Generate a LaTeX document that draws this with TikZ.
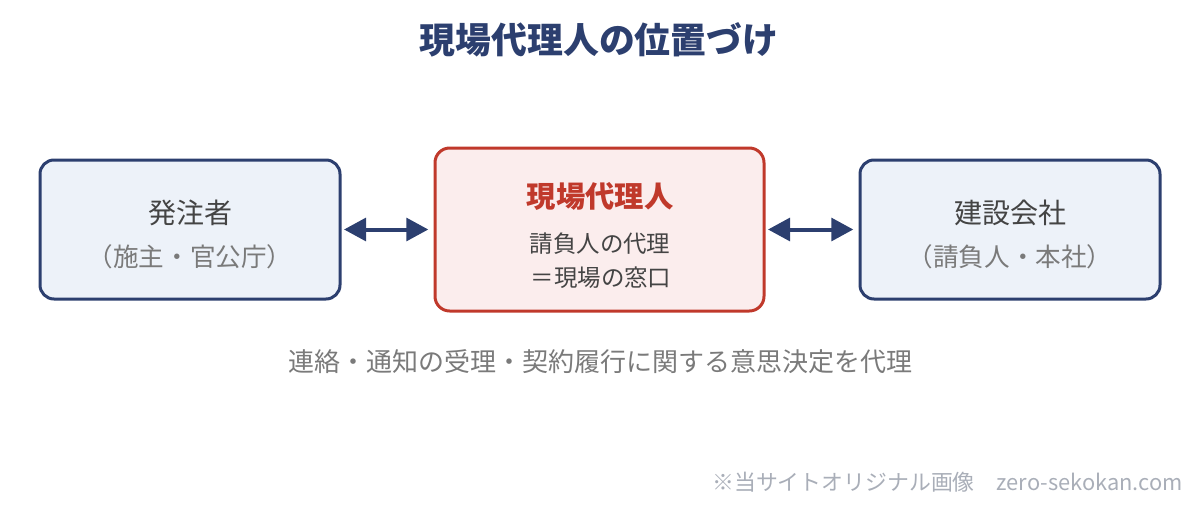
\documentclass[tikz,border=0pt]{standalone}
\usepackage{fontspec}
\setmainfont{Noto Sans CJK JP}
\usetikzlibrary{arrows.meta}
\definecolor{navy}{HTML}{2C3F6F}
\definecolor{boxfill}{HTML}{EDF2F9}
\definecolor{redc}{HTML}{C0392B}
\definecolor{redfill}{HTML}{FBEDED}
\definecolor{txt}{HTML}{444444}
\definecolor{subtxt}{HTML}{7A7A7A}
\definecolor{foot}{HTML}{A9AEB8}
\tikzset{
  sidebox/.style={draw=navy, fill=boxfill, line width=2.25pt, rounded corners=10.5pt,
    minimum width=225pt, minimum height=104.25pt, outer sep=0pt, inner sep=0pt},
  centerbox/.style={draw=redc, fill=redfill, line width=2.25pt, rounded corners=11pt,
    minimum width=246.75pt, minimum height=122.25pt, outer sep=0pt, inner sep=0pt},
  mainlbl/.style={text=txt, font=\fontsize{21}{25}\selectfont, inner sep=0pt},
  sublbl/.style={text=subtxt, font=\fontsize{19.2}{23}\selectfont, inner sep=0pt},
  dbl/.style={navy, line width=3pt, {Triangle[length=16.5pt,width=17pt]}-{Triangle[length=16.5pt,width=17pt]}},
}
\begin{document}
\begin{tikzpicture}[x=0.75pt,y=-0.75pt]
\useasboundingbox (0,0) rectangle (1200,504);
\node[text=navy, font=\fontsize{26.9}{32}\selectfont\bfseries, inner sep=0pt] (title) at (599,40) {現場代理人の位置づけ};
\node[sidebox] (hatchu) at (190,229.5) {};
\node[centerbox] (dairi) at (599.5,229.5) {};
\node[sidebox] (kensetsu) at (1010,229.5) {};
\node[mainlbl] (hatchuA) at (190,213) {発注者};
\node[sublbl] (hatchuB) at (190,257) {（施主・官公庁）};
\node[text=redc, font=\fontsize{22}{26}\selectfont\bfseries, inner sep=0pt] (dairiA) at (600,196) {現場代理人};
\node[text=txt, font=\fontsize{17.6}{21}\selectfont, inner sep=0pt] (dairiB) at (600,244) {請負人の代理};
\node[text=txt, font=\fontsize{17.6}{21}\selectfont, inner sep=0pt] (dairiC) at (601,278) {＝現場の窓口};
\node[mainlbl] (kensetsuA) at (1010,213) {建設会社};
\node[sublbl] (kensetsuB) at (1010,257) {（請負人・本社）};
\draw[dbl, shorten <=3pt, shorten >=5pt] (hatchu.east) -- (dairi.west);
\draw[dbl, shorten <=3pt, shorten >=5pt] (dairi.east) -- (kensetsu.west);
\node[text=subtxt, font=\fontsize{19.5}{23}\selectfont, inner sep=0pt] (note) at (600,362) {連絡・通知の受理・契約履行に関する意思決定を代理};
\node[text=foot, font=\fontsize{16.4}{19}\selectfont, inner sep=0pt, anchor=east] (footer) at (1183,482) {※当サイトオリジナル画像　zero-sekokan.com};
\end{tikzpicture}
\end{document}
